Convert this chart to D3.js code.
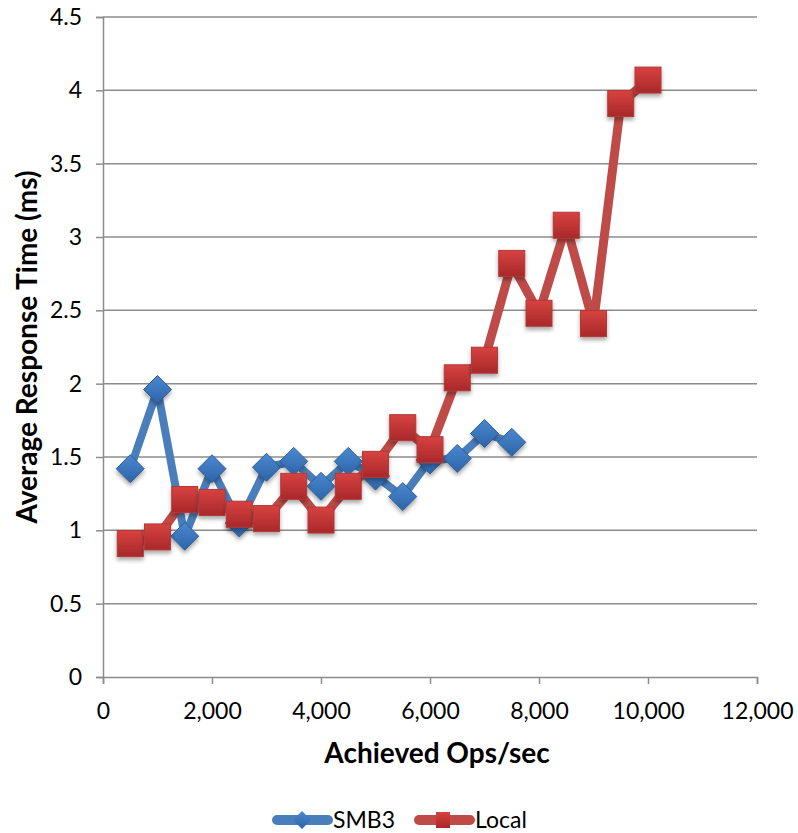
<!DOCTYPE html>
<html>
<head>
<meta charset="utf-8">
<script src="https://cdn.jsdelivr.net/npm/d3@7/dist/d3.min.js"></script>
<style>
  html, body { margin: 0; padding: 0; background: #fff; }
  svg { display: block; font-family: Lato, "Open Sans", sans-serif; }
</style>
</head>
<body>
<svg id="chart" width="798" height="833"></svg>
<script>
// Achieved throughput (ops/sec) per test step
const smb3X = [500, 1000, 1500, 2000, 2500, 3000, 3500, 4000, 4500, 5000, 5500, 6000, 6500, 7000, 7500];
const smb3Y = [1.42, 1.96, 0.96, 1.42, 1.05, 1.43, 1.47, 1.30, 1.47, 1.37, 1.23, 1.48, 1.49, 1.66, 1.60];

const localX = [500, 1000, 1500, 2000, 2500, 3000, 3500, 4000, 4500, 5000, 5500, 6000, 6500, 7000, 7500, 8000, 8500, 9000, 9500, 10000];
const localY = [0.91, 0.955, 1.21, 1.19, 1.11, 1.08, 1.30, 1.07, 1.30, 1.45, 1.70, 1.55, 2.04, 2.16, 2.82, 2.48, 3.08, 2.41, 3.91, 4.07];

const xTicks = [0, 2000, 4000, 6000, 8000, 10000, 12000];
const yTicks = [0, 0.5, 1, 1.5, 2, 2.5, 3, 3.5, 4, 4.5];
const seriesNames = ["SMB3", "Local"];

const svg = d3.select("#chart");
const plotLeft = 103, plotRight = 757, plotTop = 17, plotBottom = 677;

const x = d3.scaleLinear().domain([0, 12000]).range([plotLeft, plotRight]);
const y = d3.scaleLinear().domain([0, 4.5]).range([plotBottom, plotTop]);

const defs = svg.append("defs");
const redGrad = defs.append("linearGradient").attr("id", "redGrad").attr("x1", 0).attr("y1", 0).attr("x2", 0).attr("y2", 1);
redGrad.append("stop").attr("offset", "0%").attr("stop-color", "#d84240");
redGrad.append("stop").attr("offset", "100%").attr("stop-color", "#a8282a");
const blueGrad = defs.append("linearGradient").attr("id", "blueGrad").attr("x1", 0).attr("y1", 0).attr("x2", 0).attr("y2", 1);
blueGrad.append("stop").attr("offset", "0%").attr("stop-color", "#4a88d0");
blueGrad.append("stop").attr("offset", "100%").attr("stop-color", "#2e64a8");
const shadow = defs.append("filter").attr("id", "shadow").attr("x", "-50%").attr("y", "-50%").attr("width", "200%").attr("height", "200%");
shadow.append("feDropShadow").attr("dx", 0).attr("dy", 3).attr("stdDeviation", 2).attr("flood-color", "#000").attr("flood-opacity", 0.35);

// Horizontal gridlines
svg.append("g")
  .selectAll("line")
  .data(yTicks.filter(d => d > 0))
  .join("line")
  .attr("x1", plotLeft).attr("x2", plotRight)
  .attr("y1", d => y(d)).attr("y2", d => y(d))
  .attr("stroke", "#8c8c8c").attr("stroke-width", 1.5);

// Y axis
const yAxis = svg.append("g")
  .attr("transform", `translate(${plotLeft},0)`)
  .call(d3.axisLeft(y).tickValues(yTicks).tickSize(7).tickPadding(14).tickFormat(d3.format("")));
// X axis
const xAxis = svg.append("g")
  .attr("transform", `translate(0,${plotBottom})`)
  .call(d3.axisBottom(x).tickValues(xTicks).tickSize(7).tickPadding(19).tickFormat(d3.format(",")));

[yAxis, xAxis].forEach(g => {
  g.select(".domain").attr("stroke", "#8c8c8c").attr("stroke-width", 1.5);
  g.selectAll(".tick line").attr("stroke", "#8c8c8c").attr("stroke-width", 1.5);
  g.selectAll("text").attr("fill", "#000").style("font-size", "23px").style("font-family", "Lato, sans-serif");
});
xAxis.selectAll(".tick text").attr("dy", "0.71em");

// Axis titles
svg.append("text")
  .attr("x", 437).attr("y", 763)
  .attr("text-anchor", "middle")
  .style("font-size", "28px").style("font-weight", "bold")
  .text("Achieved Ops/sec");
svg.append("text")
  .attr("transform", "translate(37,347) rotate(-90)")
  .attr("text-anchor", "middle")
  .style("font-size", "28px").style("font-weight", "bold")
  .text("Average Response Time (ms)");

const line = d3.line().x(d => x(d[0])).y(d => y(d[1]));
const smb3 = smb3X.map((v, i) => [v, smb3Y[i]]);
const local = localX.map((v, i) => [v, localY[i]]);

function drawSmb3(pts) {
  svg.append("path").datum(pts)
    .attr("d", line).attr("fill", "none")
    .attr("stroke", "#4a7ebb").attr("stroke-width", 8).attr("stroke-linejoin", "round");
  svg.append("g").selectAll("path").data(pts).join("path")
    .attr("transform", d => `translate(${x(d[0])},${y(d[1])})`)
    .attr("d", "M0,-14L14,0L0,14L-14,0Z")
    .attr("fill", "url(#blueGrad)").attr("stroke", "#2f5f98").attr("stroke-width", 1)
    .attr("filter", "url(#shadow)");
}
function drawLocal(pts) {
  svg.append("path").datum(pts)
    .attr("d", line).attr("fill", "none")
    .attr("stroke", "#be4b48").attr("stroke-width", 9).attr("stroke-linejoin", "round");
  svg.append("g").selectAll("rect").data(pts).join("rect")
    .attr("x", d => x(d[0]) - 13).attr("y", d => y(d[1]) - 13)
    .attr("width", 26).attr("height", 26)
    .attr("fill", "url(#redGrad)").attr("stroke", "#b03a38").attr("stroke-width", 1)
    .attr("filter", "url(#shadow)");
}
drawSmb3(smb3);
drawLocal(local);

// Legend
const legend = svg.append("g");
const lg = [
  { name: seriesNames[0], x0: 273, color: "#4a7ebb" },
  { name: seriesNames[1], x0: 415, color: "#be4b48" }
];
lg.forEach((d, i) => {
  const g = legend.append("g").attr("transform", `translate(${d.x0},820)`);
  g.append("line").attr("x1", 4).attr("x2", 55).attr("y1", 0).attr("y2", 0)
    .attr("stroke", d.color).attr("stroke-width", 10).attr("stroke-linecap", "round");
  if (i === 0) {
    g.append("path").attr("d", "M29,-9L38,0L29,9L20,0Z").attr("fill", "url(#blueGrad)");
  } else {
    g.append("rect").attr("x", 21).attr("y", -8).attr("width", 14).attr("height", 16).attr("fill", "url(#redGrad)");
  }
  g.append("text").attr("x", 60).attr("y", 8).style("font-size", "23px").text(d.name);
});
</script>
</body>
</html>
